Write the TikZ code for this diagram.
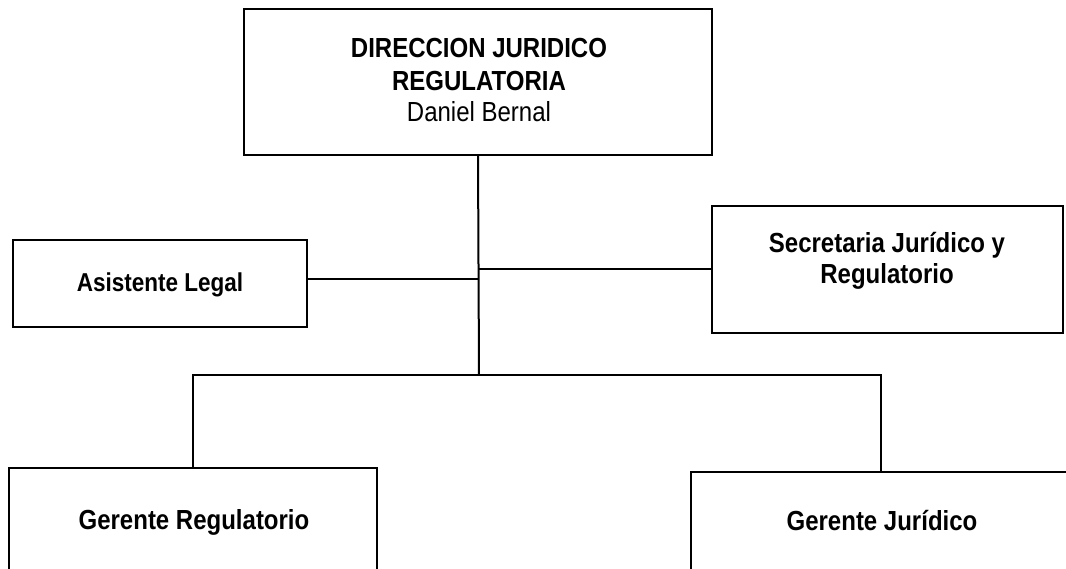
\documentclass[tikz,border=0pt]{standalone}
\usepackage{graphicx}
\usepackage{fontspec}
\setmainfont{Liberation Sans}
\newcommand{\vstretch}[1]{\scalebox{1}[1.15]{#1}}
\begin{document}
\begin{tikzpicture}[x=1pt,y=-1pt,
  box/.style={draw, line width=2.4pt, rectangle, inner sep=0pt, outer sep=0pt, anchor=north west},
  conn/.style={line width=2pt},
  bt/.style={font=\bfseries\fontsize{24}{28}\selectfont, anchor=base, inner sep=0pt},
  rt/.style={font=\fontsize{24}{28}\selectfont, anchor=base, inner sep=0pt}]
\useasboundingbox (0,0) rectangle (1066,569);
\clip (0,0) rectangle (1066,569);
\fill[white] (0,0) rectangle (1066,569);
% boxes
\node[box, minimum width=468pt, minimum height=146pt] (top) at (244,9) {};
\node[box, minimum width=294pt, minimum height=87pt] (asis) at (13,240) {};
\node[box, minimum width=351pt, minimum height=127pt] (sec) at (712,206) {};
\node[box, minimum width=368pt, minimum height=140pt] (gr) at (9,468) {};
\node[box, minimum width=380pt, minimum height=140pt] (gj) at (691,472) {};
% texts
\node[bt] (t1) at (479,58) {\vstretch{DIRECCION JURIDICO}};
\node[bt] (t2) at (479,91) {\vstretch{REGULATORIA}};
\node[rt] (t3) at (479,122) {\vstretch{Daniel Bernal}};
\node[bt, font=\bfseries\fontsize{22.5}{26}\selectfont] (ta) at (160,292) {\vstretch{Asistente Legal}};
\node[bt] (ts1) at (887,253) {\vstretch{Secretaria Jurídico y}};
\node[bt] (ts2) at (887,284) {\vstretch{Regulatorio}};
\node[bt] (tgr) at (194,529) {\vstretch{Gerente Regulatorio}};
\node[bt] (tgj) at (882,530) {\vstretch{Gerente Jurídico}};
% connectors
\coordinate (hub) at (479,375);
\coordinate (ja) at (479,279);
\coordinate (js) at (479,269);
\draw[conn] (top.south) -- (hub);
\draw[conn] (ja) -- (ja -| asis.east);
\draw[conn] (js) -- (js -| sec.west);
\draw[conn] (gr.north) -- (gr.north |- hub) -- (gj.north |- hub) -- (gj.north);
\end{tikzpicture}
\end{document}
